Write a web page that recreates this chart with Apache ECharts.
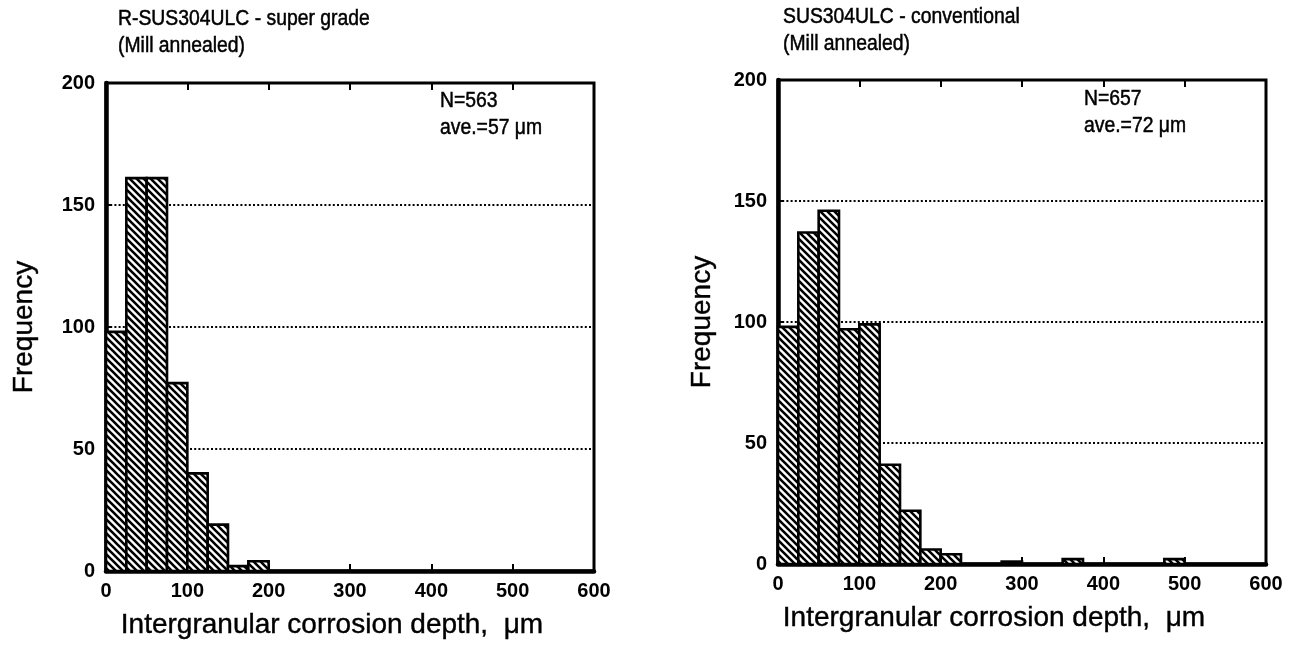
<!DOCTYPE html>
<html>
<head>
<meta charset="utf-8">
<script src="https://cdn.jsdelivr.net/npm/echarts@6/dist/echarts.min.js"></script>
<style>
  html, body { margin: 0; padding: 0; background: #fff; }
  #main { width: 1295px; height: 652px; }
</style>
</head>
<body>
<div id="main"></div>
<script>
// bin lower edges (um) and counts
const binWidth = 25;
const superBins = [0, 25, 50, 75, 100, 125, 150, 175];
const superCounts = [98, 161, 161, 77, 40, 19, 2, 4];
const convBins = [0, 25, 50, 75, 100, 125, 150, 175, 200, 275, 350, 475];
const convCounts = [98, 137, 146, 97, 99, 41, 22, 6, 4, 1, 2, 2];

const FONT = "Liberation Sans";

// diagonal hatch "\\\\" used as bar fill
function makeHatch() {
	const p = 7;
	const c = document.createElement("canvas");
	c.width = p;
	c.height = p;
	const ctx = c.getContext("2d");
	ctx.fillStyle = "#fff";
	ctx.fillRect(0, 0, p, p);
	ctx.strokeStyle = "#000";
	ctx.lineWidth = 2.6;
	ctx.beginPath();
	[-p, 0, p].forEach(function(x0) {
		ctx.moveTo(x0 - 1, -1);
		ctx.lineTo(x0 + p + 1, p + 1);
	});
	ctx.stroke();
	return { image: c, repeat: "repeat" };
}
const hatch = makeHatch();

function toData(bins, counts) {
	return bins.map(function(b, i) {
		return [b, b + binWidth, counts[i]];
	});
}

function renderBin(params, api) {
	const p0 = api.coord([api.value(0), 0]);
	const p1 = api.coord([api.value(1), api.value(2)]);
	return {
		type: "rect",
		shape: { x: p0[0], y: p1[1], width: p1[0] - p0[0], height: p0[1] - p1[1] },
		style: { fill: hatch, stroke: "#000", lineWidth: 2.6 },
	};
}

const xName = "Intergranular corrosion depth,  \u03bcm";

function bottomAxis(gridIndex, shift) {
	return {
		gridIndex: gridIndex,
		type: "value",
		position: "bottom",
		min: 0,
		max: 600,
		interval: 100,
		name: xName,
		nameLocation: "middle",
		nameGap: 40,
		nameTextStyle: {
			fontFamily: FONT, fontSize: 28, color: "#000",
			textBorderColor: "#000", textBorderWidth: 0.4,
			padding: [0, shift, 0, 0],
		},
		axisLine: { show: true, lineStyle: { color: "#000", width: 4.5 } },
		axisTick: { show: true, inside: true, length: 7, lineStyle: { color: "#000", width: 2 } },
		axisLabel: { fontFamily: FONT, fontSize: 20, fontWeight: "bold", color: "#000", margin: 10 },
		splitLine: { show: false },
	};
}
function topAxis(gridIndex) {
	return {
		gridIndex: gridIndex,
		type: "value",
		position: "top",
		min: 0,
		max: 600,
		interval: 100,
		axisLine: { show: false },
		axisTick: { show: true, inside: true, length: 7, lineStyle: { color: "#000", width: 2 } },
		axisLabel: { show: false },
		splitLine: { show: false },
	};
}
function leftAxis(gridIndex, nameGap) {
	return {
		gridIndex: gridIndex,
		type: "value",
		min: 0,
		max: 200,
		interval: 50,
		name: "Frequency",
		nameLocation: "middle",
		nameGap: nameGap,
		nameTextStyle: {
			fontFamily: FONT, fontSize: 28, color: "#000",
			textBorderColor: "#000", textBorderWidth: 0.4,
		},
		axisLine: { show: true, lineStyle: { color: "#000", width: 4.5 } },
		axisTick: { show: true, inside: true, length: 6, lineStyle: { color: "#000", width: 2 } },
		axisLabel: { fontFamily: FONT, fontSize: 20, fontWeight: "bold", color: "#000", margin: 11 },
		splitLine: {
			show: true,
			lineStyle: { color: "#000", width: 2, type: [2, 2.2] },
		},
	};
}

// slightly condensed text like the scanned figure
function label(x, y, text, lineHeight) {
	return {
		type: "text",
		x: x,
		y: y,
		scaleX: 0.88,
		style: {
			text: text,
			fontFamily: FONT,
			fontSize: 22,
			lineHeight: lineHeight,
			fill: "#000",
			stroke: "#000",
			lineWidth: 0.5,
			verticalAlign: "top",
		},
	};
}

const chart = echarts.init(document.getElementById("main"));
const option = {
	backgroundColor: "#fff",
	animation: false,
	graphic: [
		label(118, 5, "R-SUS304ULC - super grade\n(Mill annealed)", 27),
		label(783, 3, "SUS304ULC - conventional\n(Mill annealed)", 27),
		label(440, 87, "N=563\nave.=57 \u03bcm", 27),
		label(1084, 85, "N=657\nave.=72 \u03bcm", 27),
	],
	grid: [
		{ left: 106, top: 83, width: 488, height: 488, show: true, borderColor: "#000", borderWidth: 3 },
		{ left: 778, top: 80, width: 488, height: 484, show: true, borderColor: "#000", borderWidth: 3 },
	],
	xAxis: [bottomAxis(0, 36), topAxis(0), bottomAxis(1, 56), topAxis(1)],
	yAxis: [leftAxis(0, 68), leftAxis(1, 62)],
	series: [
		{
			type: "custom",
			xAxisIndex: 0,
			yAxisIndex: 0,
			renderItem: renderBin,
			data: toData(superBins, superCounts),
		},
		{
			type: "custom",
			xAxisIndex: 2,
			yAxisIndex: 1,
			renderItem: renderBin,
			data: toData(convBins, convCounts),
		},
	],
};
chart.setOption(option);
</script>
</body>
</html>
